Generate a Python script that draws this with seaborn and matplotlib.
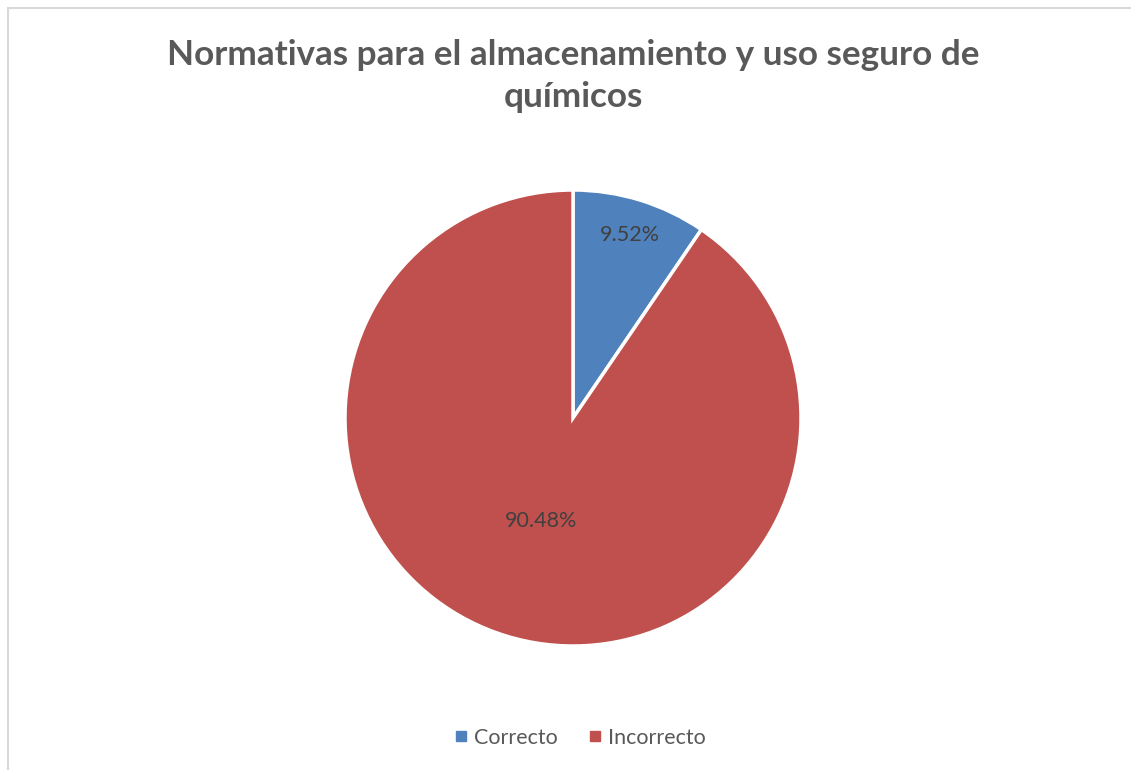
import numpy as np
import seaborn as sns
import matplotlib
import matplotlib.pyplot as plt
from matplotlib.lines import Line2D
from matplotlib.patches import Rectangle

matplotlib.use('Agg')

# datos del gráfico
categorias = ['Correcto', 'Incorrecto']
porcentajes = [9.52, 90.48]
colores = ['#4F81BD', '#C0504D']
titulo = 'Normativas para el almacenamiento y uso seguro de\nquímicos'

sns.set_theme(style="white")
plt.rcParams['font.family'] = ['Lato', 'DejaVu Sans']

W, H = 1131, 770
fig = plt.figure(figsize=(W / 100, H / 100), dpi=100)
fig.patch.set_facecolor('white')

# ejes del pastel: centro (573, 418) px, radio 228 px
cx, cy, r = 573, 418, 228
ax = fig.add_axes([(cx - r) / W, (H - cy - r) / H, 2 * r / W, 2 * r / H])
wedges, _ = ax.pie(
    porcentajes,
    colors=colores,
    startangle=90,
    counterclock=False,
    wedgeprops=dict(edgecolor='white', linewidth=2.5),
)
ax.set_xlim(-1, 1)
ax.set_ylim(-1, 1)
ax.set_aspect('equal')

# etiquetas de porcentaje
distancias = [0.84, 0.475]
for w, p, d in zip(wedges, porcentajes, distancias):
    ang = np.deg2rad((w.theta1 + w.theta2) / 2)
    ax.text(d * np.cos(ang), d * np.sin(ang), f'{p:.2f}%',
            ha='center', va='center', fontsize=15.5, color='#404040')

fig.text(cx / W, 1 - 76 / H, titulo, ha='center', va='center',
         fontsize=25.3, fontweight='bold', color='#595959', linespacing=1.42)

handles = [Line2D([], [], marker='s', linestyle='', color=c, markersize=7)
           for c in colores]
fig.legend(handles, categorias, loc='center', bbox_to_anchor=(578 / W, 1 - 738 / H),
           ncol=2, frameon=False, fontsize=15.5, labelcolor='#595959',
           handletextpad=0.1, columnspacing=1.2, handlelength=1.0)

# borde del área del gráfico
fig.add_artist(Rectangle((7.5 / W, -0.1), 1.2, 1 - 7.5 / H + 0.1,
                         transform=fig.transFigure, fill=False,
                         edgecolor='#D9D9D9', linewidth=1.5))

fig.savefig('out.png', dpi=100)
